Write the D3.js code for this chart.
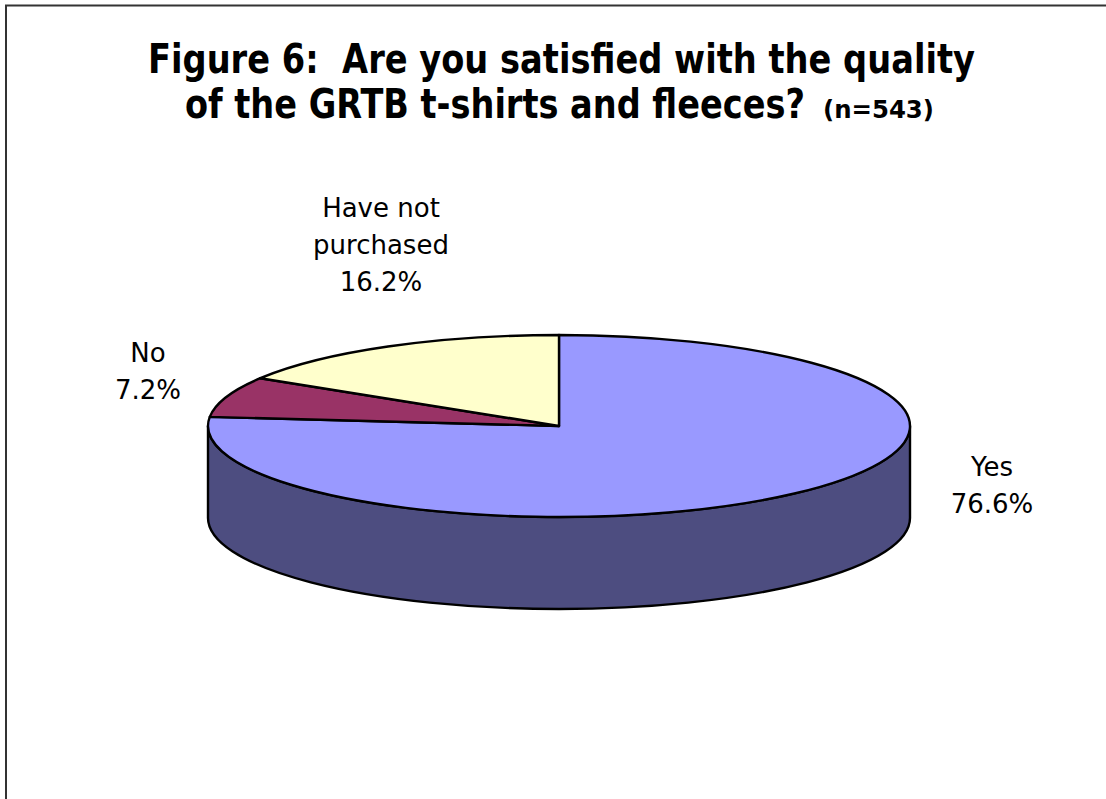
<!DOCTYPE html>
<html>
<head>
<meta charset="utf-8">
<script src="https://cdn.jsdelivr.net/npm/d3@7"></script>
<style>
  html, body { margin: 0; padding: 0; background: #ffffff; }
  svg { display: block; }
</style>
</head>
<body>
<svg id="chart" width="1106" height="799"></svg>
<script>
// Survey answers and their shares (percent)
const categories = ["Yes", "No", "Have not purchased"];
const values = [76.6, 7.2, 16.2];
const labelLines = [["Yes", "76.6%"], ["No", "7.2%"], ["Have not", "purchased", "16.2%"]];

const topColors = ["#9999ff", "#993366", "#ffffcc"];
const sideColors = ["#4d4d80", "#4d1a33", "#808066"];

const W = 1106, H = 799;
const svg = d3.select("#chart");

// frame around the chart area
svg.append("rect")
  .attr("x", 6).attr("y", 5.5)
  .attr("width", W + 20).attr("height", H + 20)
  .attr("fill", "none").attr("stroke", "#333333").attr("stroke-width", 2);

// title: each piece is scaled horizontally to a target width
const titleFont = "'DejaVu Sans Condensed', 'DejaVu Sans', Verdana, sans-serif";
function titleText(x, y, size, str, width) {
  const g = svg.append("g");
  const t = g.append("text")
    .attr("x", 0).attr("y", 0)
    .attr("font-family", titleFont).attr("font-weight", "bold")
    .attr("font-size", size).attr("fill", "#000")
    .text(str);
  const sx = width / t.node().getComputedTextLength();
  g.attr("transform", `translate(${x},${y}) scale(${sx},1)`);
  return t;
}
titleText(148, 73, 41, "Figure 6:\u00a0 Are you satisfied with the quality", 827);
titleText(185, 118, 41, "of the GRTB t-shirts and fleeces?", 620);
titleText(823, 118, 24, "(n=543)", 111);

// 3D pie geometry
const cx = 559, cy = 426, rx = 351, ry = 91, depth = 92;

const pie = d3.pie().sort(null).value(d => d).startAngle(0).endAngle(2 * Math.PI);
const arcs = pie(values);

// angle measured clockwise from 12 o'clock
const px = a => cx + rx * Math.sin(a);
const py = (a, dy = 0) => cy - ry * Math.cos(a) + dy;

function topPath(d) {
  const large = (d.endAngle - d.startAngle) > Math.PI ? 1 : 0;
  return `M${cx},${cy}L${px(d.startAngle)},${py(d.startAngle)}` +
    `A${rx},${ry} 0 ${large} 1 ${px(d.endAngle)},${py(d.endAngle)}Z`;
}

function sidePath(a0, a1) {
  const large = (a1 - a0) > Math.PI ? 1 : 0;
  return `M${px(a0)},${py(a0)}` +
    `A${rx},${ry} 0 ${large} 1 ${px(a1)},${py(a1)}` +
    `L${px(a1)},${py(a1, depth)}` +
    `A${rx},${ry} 0 ${large} 0 ${px(a0)},${py(a0, depth)}Z`;
}

// visible front wall: the part of each slice between 90° and 270°
const front0 = Math.PI / 2, front1 = 3 * Math.PI / 2;
const sides = arcs.map((d, i) => {
  const a0 = Math.max(d.startAngle, front0), a1 = Math.min(d.endAngle, front1);
  return a1 > a0 ? { i, a0, a1 } : null;
}).filter(Boolean);

svg.append("g").selectAll("path")
  .data(sides)
  .join("path")
  .attr("d", s => sidePath(s.a0, s.a1))
  .attr("fill", s => sideColors[s.i])
  .attr("stroke", "#000").attr("stroke-width", 2.4).attr("stroke-linejoin", "round");

svg.append("g").selectAll("path")
  .data(arcs)
  .join("path")
  .attr("d", topPath)
  .attr("fill", (d, i) => topColors[i])
  .attr("stroke", "#000").attr("stroke-width", 2.4).attr("stroke-linejoin", "round");

// data labels placed outside each slice
const labelFont = "'DejaVu Sans', Tahoma, sans-serif";
const labelAnchor = [
  { dx: 433, dy: 50 },    // Yes
  { dx: -411, dy: -64 },  // No
  { dx: -178, dy: -209 }  // Have not purchased
];
const lineH = 37;

const labels = svg.append("g").selectAll("text")
  .data(arcs)
  .join("text")
  .attr("text-anchor", "middle")
  .attr("font-family", labelFont)
  .attr("font-size", 26)
  .attr("fill", "#000");

labels.each(function (d, i) {
  const t = d3.select(this);
  const x = cx + labelAnchor[i].dx, y = cy + labelAnchor[i].dy;
  labelLines[i].forEach((line, k) => {
    t.append("tspan").attr("x", x).attr("y", y + k * lineH).text(line);
  });
});
</script>
</body>
</html>
